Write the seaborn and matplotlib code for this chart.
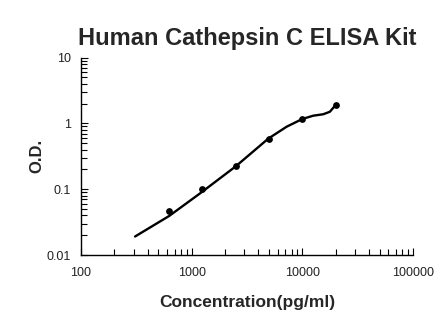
import matplotlib
matplotlib.use("Agg")
import matplotlib.pyplot as plt
import matplotlib.ticker as mticker
import seaborn as sns
import pandas as pd

# Standard points (concentration in pg/ml, optical density)
std_conc = [625, 1250, 2500, 5000, 10000, 20000]
std_od = [0.047, 0.100, 0.222, 0.585, 1.164, 1.90]

# Fitted standard curve
fit_conc = [308, 625, 1213, 2500, 4920, 7215, 10000, 12540, 15450, 17750, 20000]
fit_od = [0.0191, 0.0391, 0.0883, 0.222, 0.585, 0.889, 1.164, 1.306, 1.374, 1.50, 1.90]

x_ticks = [100, 1000, 10000, 100000]
y_ticks = [0.01, 0.1, 1, 10]

sns.set_style("ticks")
plt.rcParams["font.family"] = ["Liberation Sans", "DejaVu Sans"]

fig = plt.figure(figsize=(4.46, 3.26), dpi=100)
ax = fig.add_axes([81 / 446, 1 - 255 / 326, (413 - 81) / 446, (255 - 57.5) / 326])

fit_df = pd.DataFrame({"conc": fit_conc, "od": fit_od})
std_df = pd.DataFrame({"conc": std_conc, "od": std_od})

sns.lineplot(data=fit_df, x="conc", y="od", ax=ax, color="black", linewidth=1.7,
             sort=True, estimator=None)
sns.scatterplot(data=std_df, x="conc", y="od", ax=ax, color="black", s=24,
                edgecolor="black", linewidth=0, zorder=3)

ax.set_xscale("log")
ax.set_yscale("log")
ax.set_xlim(100, 100000)
ax.set_ylim(0.01, 10)

ax.xaxis.set_major_locator(mticker.FixedLocator(x_ticks))
ax.yaxis.set_major_locator(mticker.FixedLocator(y_ticks))
fmt = mticker.FuncFormatter(lambda v, p: f"{v:g}")
ax.xaxis.set_major_formatter(fmt)
ax.yaxis.set_major_formatter(fmt)
ax.xaxis.set_minor_locator(mticker.LogLocator(base=10, subs=range(2, 10)))
ax.yaxis.set_minor_locator(mticker.LogLocator(base=10, subs=range(2, 10)))
ax.xaxis.set_minor_formatter(mticker.NullFormatter())
ax.yaxis.set_minor_formatter(mticker.NullFormatter())

ax.tick_params(axis="both", which="both", direction="in", color="black", width=0.8)
ax.tick_params(axis="both", which="major", length=5, labelsize=9, labelcolor="#222222")
ax.tick_params(axis="both", which="minor", length=4)
ax.tick_params(axis="x", which="major", pad=9)
ax.tick_params(axis="y", which="major", pad=7)

for side in ("top", "right"):
    ax.spines[side].set_visible(False)
for side in ("left", "bottom"):
    ax.spines[side].set_color("black")
    ax.spines[side].set_linewidth(1.0)

ax.set_xlabel("Concentration(pg/ml)", fontsize=12.5, fontweight="bold", labelpad=11)
ax.set_ylabel("O.D.", fontsize=12, fontweight="bold", labelpad=2)
ax.set_title("Human Cathepsin C ELISA Kit", fontsize=17, fontweight="bold", pad=9)

fig.savefig("out.png", dpi=100)
